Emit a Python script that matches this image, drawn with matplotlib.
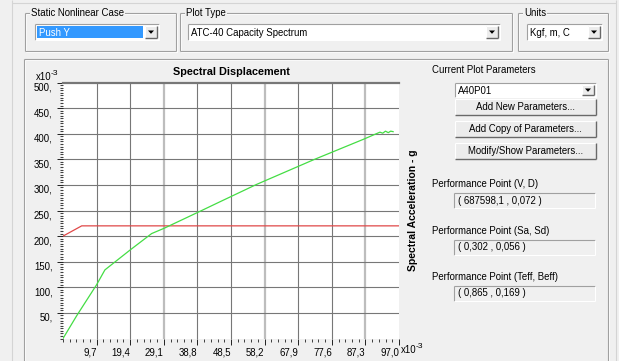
import matplotlib
matplotlib.use("Agg")
import matplotlib.pyplot as plt
from matplotlib.patches import Rectangle, Polygon
from matplotlib.ticker import MultipleLocator

plt.rcParams['font.family'] = ['Liberation Sans', 'DejaVu Sans']

# capacity curve (green) and demand curve (red), x in 1e-3 m, y in 1e-3 g
cap_x = [0, 4.0, 9.7, 12.1, 19.4, 25.6, 29.1, 38.8, 45.3, 55.9, 72.3, 86.7,
         91.5, 92.3, 93.1, 93.9, 94.6, 95.3]
cap_y = [0, 45, 105, 134, 173, 205, 215, 246, 267, 301, 349, 389,
         403, 401, 405, 402, 405, 404]
dem_x = [0, 5.4, 97.0]
dem_y = [200, 220, 220]

x_ticks = [9.7, 19.4, 29.1, 38.8, 48.5, 58.2, 67.9, 77.6, 87.3, 97.0]
x_tick_labels = ['9,7', '19,4', '29,1', '38,8', '48,5', '58,2', '67,9', '77,6', '87,3', '97,0']
y_ticks = [50, 100, 150, 200, 250, 300, 350, 400, 450, 500]
y_tick_labels = ['50,', '100,', '150,', '200,', '250,', '300,', '350,', '400,', '450,', '500,']

perf_labels = ['Performance Point (V, D)', 'Performance Point (Sa, Sd)',
               'Performance Point (Teff, Beff)']
perf_values = ['( 687598,1 , 0,072 )', '( 0,302 , 0,056 )', '( 0,865 , 0,169 )']
param_buttons = ['Add New Parameters...', 'Add Copy of Parameters...',
                 'Modify/Show Parameters...']

W, H = 619, 361
BG = '#f0f0f0'
FS = 6.9

fig = plt.figure(figsize=(W / 100, H / 100), dpi=100, facecolor=BG)

# dialog layer in pixel coordinates
bg = fig.add_axes([0, 0, 1, 1], zorder=0)
bg.set_xlim(0, W)
bg.set_ylim(H, 0)
bg.axis('off')


def hline(x0, x1, y, c, lw=0.8):
    bg.plot([x0, x1], [y, y], color=c, lw=lw, solid_capstyle='butt')


def vline(x, y0, y1, c, lw=0.8):
    bg.plot([x, x], [y0, y1], color=c, lw=lw, solid_capstyle='butt')


def etched(x0, y0, x1, y1, label=None):
    for off, c in ((1, 'white'), (0, '#a0a0a0')):
        hline(x0 + off, x1 + off, y0 + off, c)
        hline(x0 + off, x1 + off, y1 + off, c)
        vline(x0 + off, y0 + off, y1 + off, c)
        vline(x1 + off, y0 + off, y1 + off, c)
    if label:
        bg.text(x0 + 6, y0, label, fontsize=FS, va='center', ha='left',
                bbox=dict(facecolor=BG, edgecolor='none', pad=1))


def sunken(x0, y0, x1, y1, fill):
    bg.add_patch(Rectangle((x0, y0), x1 - x0, y1 - y0, facecolor=fill, edgecolor='none'))
    hline(x0, x1, y0, '#a0a0a0')
    vline(x0, y0, y1, '#a0a0a0')
    hline(x0, x1, y1, 'white')
    vline(x1, y0, y1, 'white')


def raised(x0, y0, x1, y1, text=None, fill='#ececec'):
    bg.add_patch(Rectangle((x0, y0), x1 - x0, y1 - y0, facecolor=fill, edgecolor='none'))
    hline(x0, x1, y0, 'white')
    vline(x0, y0, y1, 'white')
    hline(x0, x1, y1, '#696969', lw=1.0)
    vline(x1, y0, y1, '#696969', lw=1.0)
    if text:
        bg.text((x0 + x1) / 2, (y0 + y1) / 2 + 0.5, text, fontsize=FS,
                ha='center', va='center')


def combo(x0, y0, x1, y1, text, selected=False):
    sunken(x0, y0, x1, y1, 'white')
    bx0, bx1 = x1 - 14, x1 - 2
    raised(bx0, y0 + 2, bx1, y1 - 2)
    cx, cy = (bx0 + bx1) / 2, (y0 + y1) / 2
    bg.add_patch(Polygon([[cx - 3, cy - 1.5], [cx + 3, cy - 1.5], [cx, cy + 1.8]],
                         closed=True, facecolor='black', edgecolor='none'))
    if selected:
        bg.add_patch(Rectangle((x0 + 2, y0 + 2), bx0 - x0 - 4, y1 - y0 - 4,
                               facecolor='#3399ff', edgecolor='none'))
        bg.text(x0 + 4, (y0 + y1) / 2 + 0.5, text, fontsize=FS, va='center', color='white')
    else:
        bg.text(x0 + 3, (y0 + y1) / 2 + 0.5, text, fontsize=FS, va='center')


def sci_label(x, y):
    # "x10" with a raised "-3"
    bg.text(x, y, 'x10', fontsize=FS, va='center')
    bg.text(x + 14.5, y - 3.5, '-3', fontsize=FS - 0.8, va='center')


# outer frame
vline(12, 0, H, '#d4d4d4')
vline(616, 0, H, '#d4d4d4')
hline(12, 616, 3, '#d4d4d4')

# top group boxes
etched(25, 13, 176, 51, 'Static Nonlinear Case')
combo(35, 24, 159, 40, 'Push Y', selected=True)
etched(180, 13, 512, 51, 'Plot Type')
combo(188, 24, 500, 40, 'ATC-40 Capacity Spectrum')
etched(518, 13, 608, 51, 'Units')
combo(527, 24, 602, 40, 'Kgf, m, C')

# main panel
etched(24, 59, 608, 370)

# right side controls
bg.text(432, 70, 'Current Plot Parameters', fontsize=FS, va='center')
combo(455, 83, 596, 97, 'A40P01')
for i, name in enumerate(param_buttons):
    y0 = 99 + i * 22
    raised(455, y0, 596, y0 + 15.5, name)

for i, (lab, val) in enumerate(zip(perf_labels, perf_values)):
    ly = 184 + i * 46.5
    bg.text(432, ly, lab, fontsize=FS, va='center')
    sunken(454, ly + 9, 595, ly + 24, BG)
    bg.text(458, ly + 16.5, val, fontsize=FS, va='center')

# chart labels
bg.text(231, 72, 'Spectral Displacement', fontsize=7.8, fontweight='bold',
        ha='center', va='center')
bg.text(413, 210, 'Spectral Acceleration - g', fontsize=7.5, fontweight='bold',
        ha='center', va='center', rotation=90)
sci_label(36, 77)
sci_label(401, 350)

# plot area
ax = fig.add_axes([63 / W, 1 - 338.5 / H, 336 / W, 256 / H], zorder=1)
ax.set_facecolor('white')
ax.set_xlim(0, 97.0)
ax.set_ylim(0, 500)

for k, xv in enumerate(x_ticks[:-1]):
    if k % 3 == 2:
        ax.axvline(xv, color='#bdbdbd', lw=1.6, zorder=1)
    else:
        ax.axvline(xv, color='#777777', lw=0.8, zorder=1)
for yv in y_ticks[:-1]:
    ax.axhline(yv, color='#777777', lw=0.8, zorder=1)

ax.plot(dem_x, dem_y, color='#e04848', lw=0.9, zorder=3)
ax.plot(cap_x, cap_y, color='#44dd44', lw=0.9, zorder=3)

for side in ('left', 'right', 'bottom'):
    ax.spines[side].set_visible(False)
ax.spines['top'].set_color('#777777')
ax.spines['top'].set_linewidth(1.6)

ax.set_xticks(x_ticks, x_tick_labels, ha='right')
ax.set_yticks(y_ticks, y_tick_labels, va='top')
ax.xaxis.set_minor_locator(MultipleLocator(1.94))
ax.yaxis.set_minor_locator(MultipleLocator(5))
ax.tick_params(which='major', length=4.5, width=0.7, labelsize=FS, pad=2, color='#202020')
ax.tick_params(which='minor', length=2.2, width=0.6, color='#202020')
ax.tick_params(axis='y', which='major', pad=3)

fig.savefig('out.png', dpi=100, facecolor=BG)
